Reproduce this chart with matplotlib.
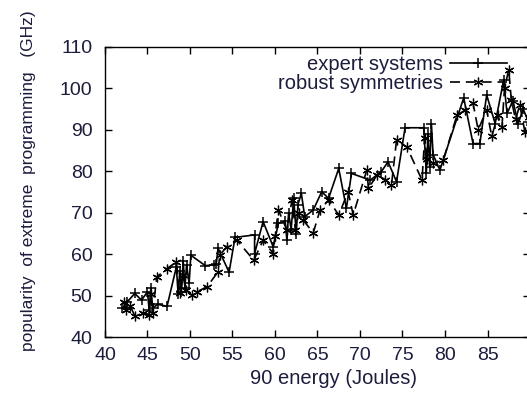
import matplotlib
matplotlib.use('Agg')
import matplotlib.pyplot as plt

plt.rcParams['font.family'] = ['Liberation Sans', 'DejaVu Sans']

# expert systems (solid, +)
x1 = [42.0, 42.6, 43.5, 44.3, 45.0, 45.2, 45.4, 45.6, 46.2, 47.3, 48.4, 48.6,
      48.8, 49.0, 49.2, 49.4, 49.6, 49.9, 50.1, 51.8, 52.8, 53.1, 53.3, 54.6,
      55.3, 57.6, 57.6, 58.6, 59.8, 60.4, 61.2, 61.4, 61.6, 61.9, 62.2, 62.5,
      62.7, 63.1, 63.5, 64.5, 65.5, 66.3, 67.5, 68.4, 69.0, 71.2, 72.5, 73.3,
      74.3, 75.3, 77.5, 77.8, 78.0, 78.2, 78.4, 78.6, 79.4, 82.2, 83.3, 84.1,
      84.9, 85.9, 86.9, 87.3, 88.0, 88.6, 89.2, 89.8]
y1 = [47.0, 48.5, 50.6, 49.0, 51.0, 46.5, 52.0, 47.0, 48.0, 47.5, 57.0, 50.5,
      56.0, 51.0, 58.5, 52.0, 57.5, 53.0, 59.8, 57.3, 57.5, 57.8, 61.5, 55.7,
      64.1, 64.7, 60.2, 67.9, 61.8, 67.5, 68.0, 63.5, 70.0, 66.0, 73.5, 65.0,
      72.0, 74.7, 69.1, 70.7, 75.1, 73.5, 80.7, 71.1, 79.5, 77.9, 79.9, 82.3,
      77.5, 90.5, 90.5, 79.5, 89.0, 81.0, 91.5, 84.0, 80.3, 97.7, 86.7, 86.7,
      98.4, 91.5, 102.0, 94.0, 97.0, 91.5, 95.0, 92.0]

# robust symmetries (dashed, *)
x2 = [42.2, 42.5, 43.0, 43.5, 44.5, 45.2, 45.4, 45.6, 46.1, 47.3, 48.4, 48.8,
      49.2, 49.5, 50.2, 50.8, 52.0, 53.3, 53.5, 54.3, 55.5, 57.5, 58.6, 59.8,
      60.0, 60.4, 61.4, 62.0, 62.4, 62.8, 63.3, 64.5, 65.3, 66.3, 67.5, 68.6,
      69.2, 70.8, 71.0, 72.0, 73.0, 73.7, 74.3, 75.5, 77.3, 77.6, 77.9, 78.6,
      79.8, 81.4, 82.4, 83.3, 83.9, 84.9, 85.5, 86.2, 86.7, 87.0, 87.5, 87.8,
      88.3, 88.8, 89.4, 89.9]
y2 = [48.6, 46.6, 47.5, 45.2, 45.8, 45.4, 50.5, 46.0, 54.6, 56.6, 58.2, 50.6,
      55.0, 51.5, 50.2, 51.0, 52.2, 55.8, 59.8, 61.8, 63.5, 58.6, 63.4, 60.2,
      64.5, 70.7, 65.9, 73.1, 65.9, 70.0, 68.3, 65.2, 70.7, 73.1, 69.5, 75.1,
      69.5, 80.3, 75.9, 79.1, 78.0, 76.7, 87.5, 85.9, 77.9, 88.0, 83.0, 81.9,
      82.7, 93.5, 94.8, 96.4, 90.0, 94.8, 88.4, 93.5, 90.7, 100.0, 104.5, 97.2,
      92.5, 96.0, 89.5, 93.0]

xticks = [40, 45, 50, 55, 60, 65, 70, 75, 80, 85]
yticks = [40, 50, 60, 70, 80, 90, 100, 110]

txt = '#1c1c3c'

fig = plt.figure(figsize=(5.27, 3.95), dpi=100)
ax = fig.add_axes([0.1992, 0.1456, 0.8065, 0.736])

ax.plot(x1, y1, '-', color='black', lw=1.2, marker='+', ms=7, mew=1.1,
        label='expert systems')
ax.plot(x2, y2, color='black', lw=1.2, dashes=(6, 3.5), marker=(6, 2, 0), ms=7,
        mew=0.9, label='robust symmetries')

ax.set_xlim(40, 90)
ax.set_ylim(40, 110)
ax.set_xticks(xticks)
ax.set_yticks(yticks)
ax.tick_params(direction='in', top=True, right=True, length=5, width=1,
               labelsize=14, labelcolor=txt)
ax.tick_params(axis='x', pad=7)
ax.tick_params(axis='y', pad=9)
for s in ax.spines.values():
    s.set_linewidth(1)

ax.set_xlabel('90 energy (Joules)', fontsize=14.5, color=txt)
ax.set_ylabel('popularity  of extreme  programming   (GHz)', fontsize=12.5, color=txt)
ax.xaxis.set_label_coords(0.537, -0.108)
ax.yaxis.set_label_coords(-0.163, 0.538)

leg = ax.legend(loc='upper right', bbox_to_anchor=(0.946, 0.97), frameon=False,
                fontsize=14.5, markerfirst=False, handlelength=2.85,
                handletextpad=0.35, labelspacing=0.0, borderpad=0,
                borderaxespad=0, labelcolor=txt)
for t in leg.get_texts():
    t.set_ha('right')

fig.savefig('out.png', dpi=100)
